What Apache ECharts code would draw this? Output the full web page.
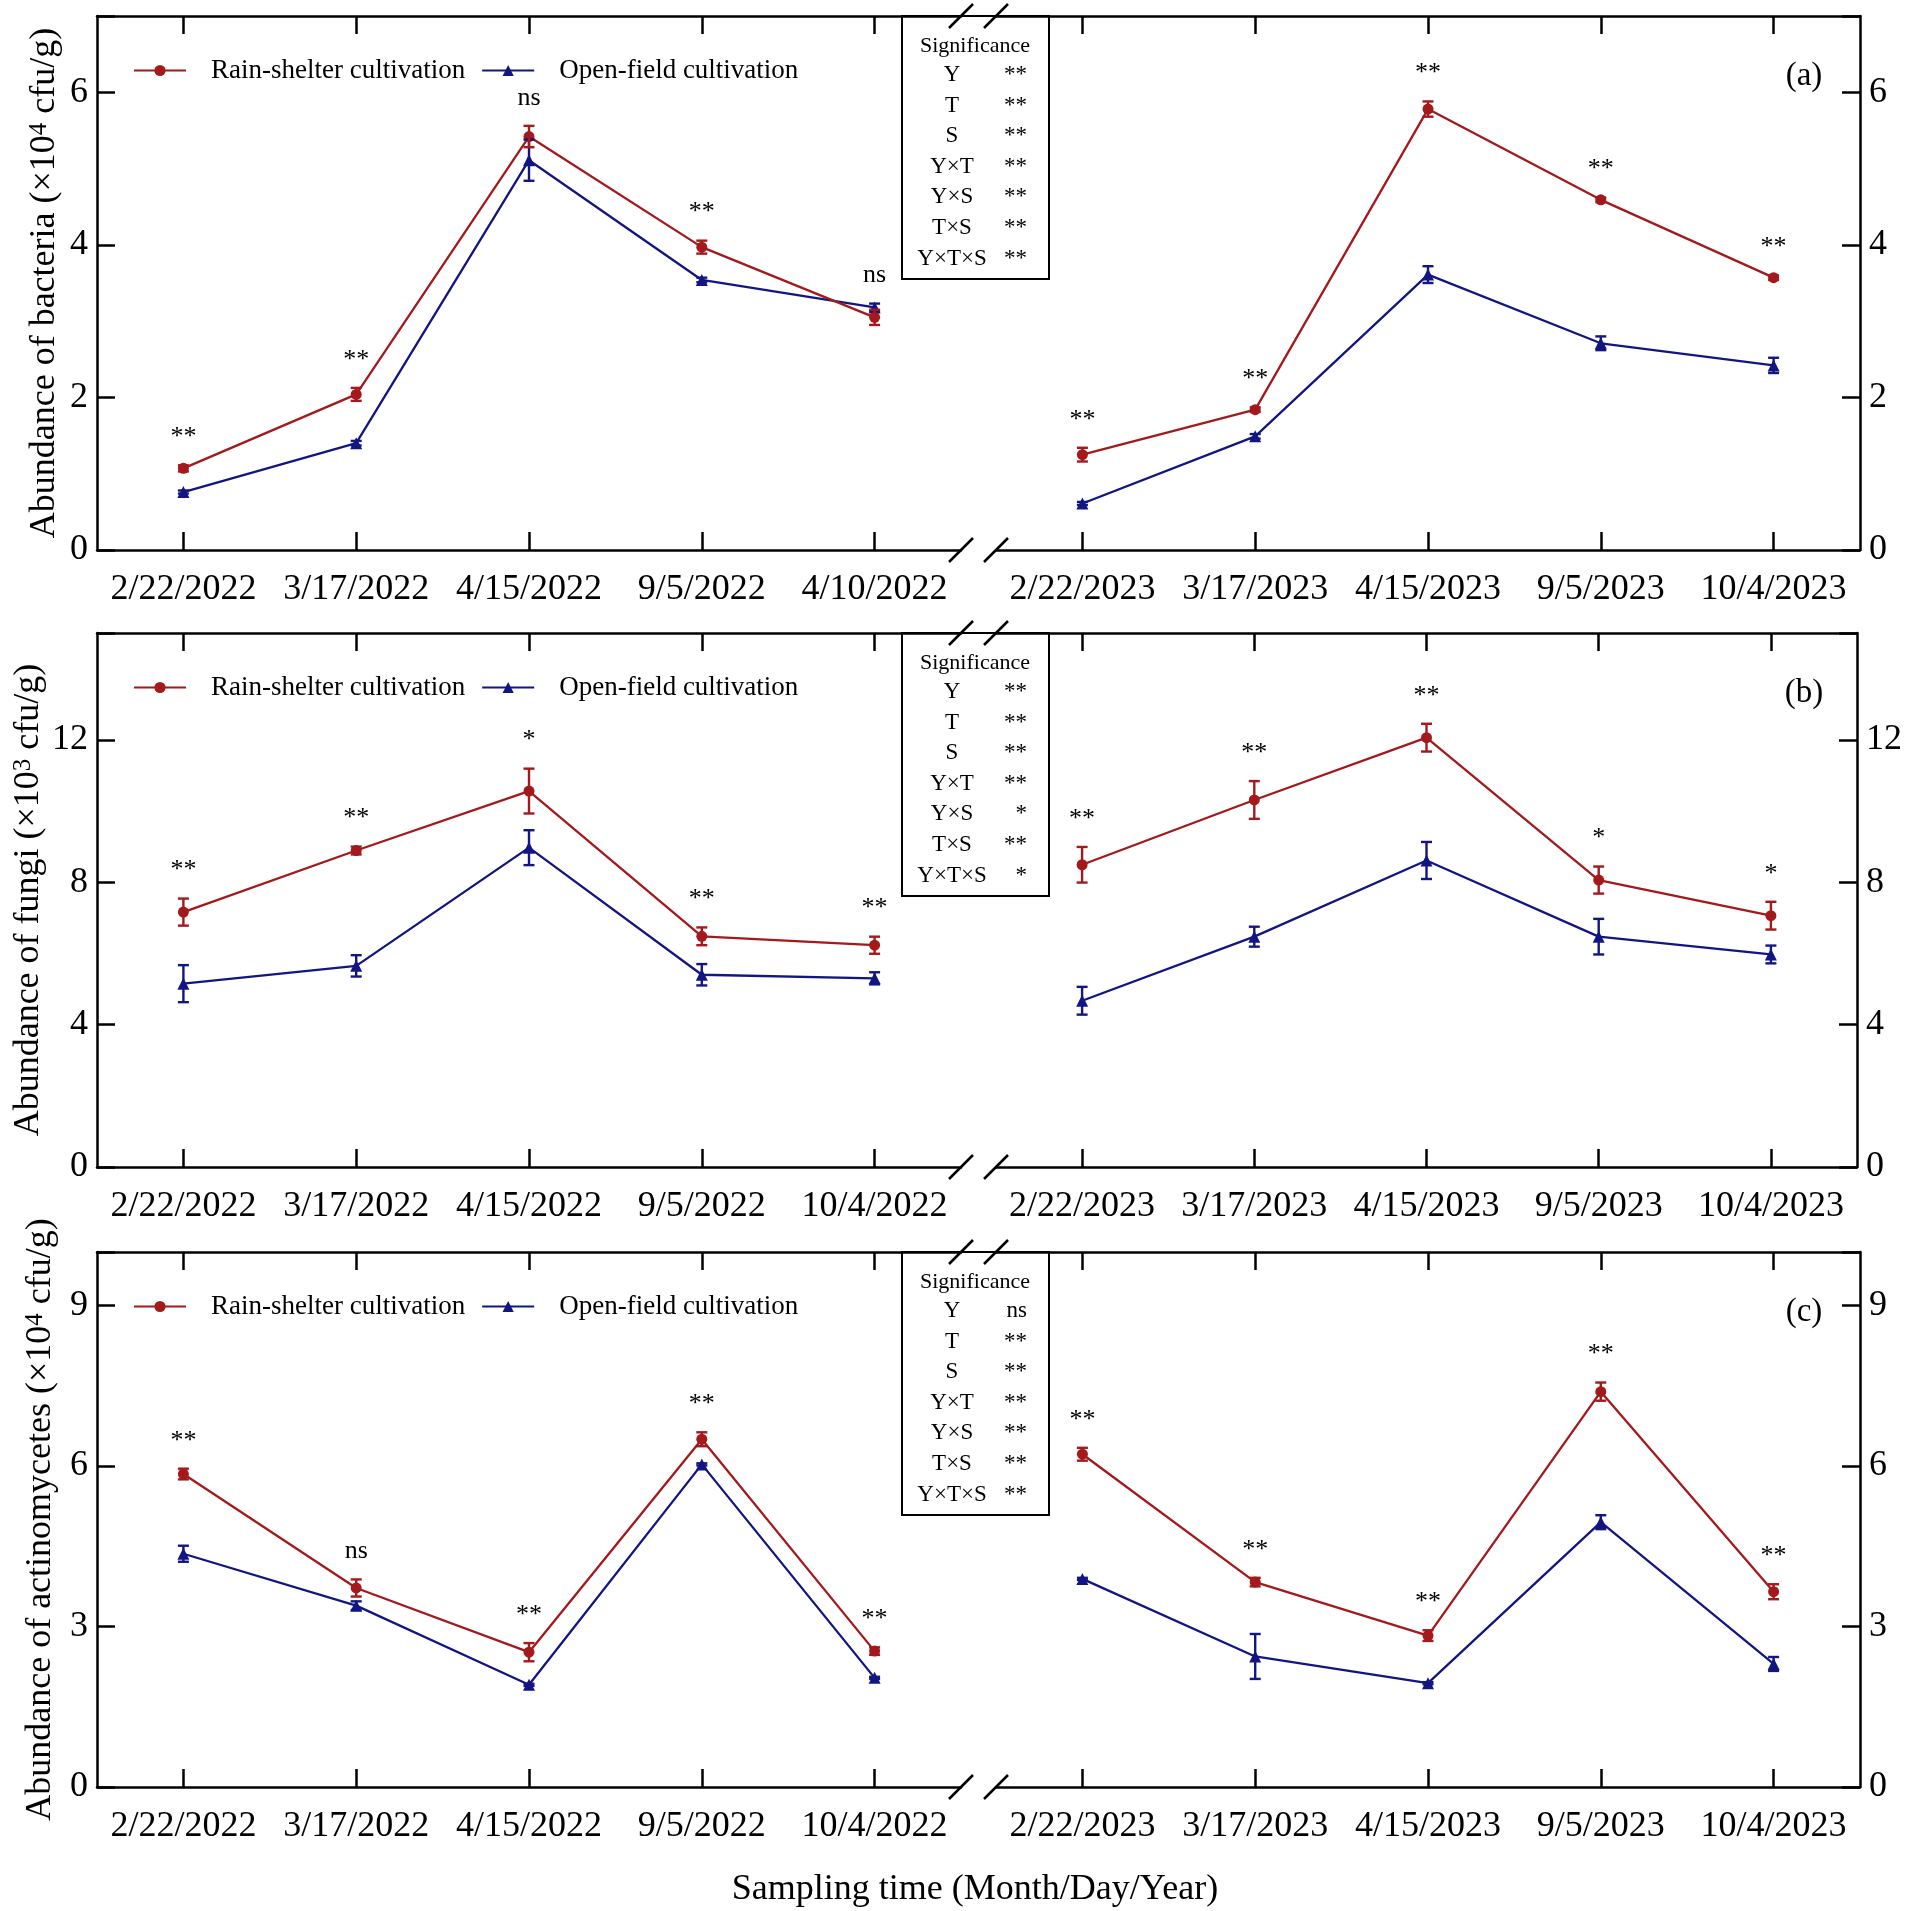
<!DOCTYPE html>
<html>
<head>
<meta charset="utf-8">
<script src="https://cdn.jsdelivr.net/npm/echarts@6/dist/echarts.min.js"></script>
<style>
html,body{margin:0;padding:0;background:#fff;}
#chart{width:1905px;height:1911px;}
</style>
</head>
<body>
<div id="chart"></div>
<script>
// ---------------- DATA ----------------
const dates2022a = ['2/22/2022', '3/17/2022', '4/15/2022', '9/5/2022', '4/10/2022'];
const dates2022 = ['2/22/2022', '3/17/2022', '4/15/2022', '9/5/2022', '10/4/2022'];
const dates2023 = ['2/22/2023', '3/17/2023', '4/15/2023', '9/5/2023', '10/4/2023'];
const seriesNames = ['Rain-shelter cultivation', 'Open-field cultivation'];

// (a) bacteria (x10^4 cfu/g)
const bacRain2022 = [1.07, 2.04, 5.42, 3.97, 3.05];
const bacRain2022Err = [0.04, 0.085, 0.14, 0.085, 0.1];
const bacOpen2022 = [0.76, 1.40, 5.11, 3.54, 3.18];
const bacOpen2022Err = [0.02, 0.03, 0.27, 0.03, 0.05];
const bacRain2023 = [1.25, 1.84, 5.78, 4.59, 3.57];
const bacRain2023Err = [0.09, 0.03, 0.1, 0.03, 0.03];
const bacOpen2023 = [0.61, 1.49, 3.61, 2.71, 2.42];
const bacOpen2023Err = [0.02, 0.03, 0.11, 0.09, 0.1];
const bacSig2022 = ['**', '**', 'ns', '**', 'ns'];
const bacSig2023 = ['**', '**', '**', '**', '**'];
const bacAnova = ['**', '**', '**', '**', '**', '**', '**'];

// (b) fungi (x10^3 cfu/g)
const funRain2022 = [7.16, 8.89, 10.56, 6.48, 6.23];
const funRain2022Err = [0.38, 0.11, 0.63, 0.25, 0.24];
const funOpen2022 = [5.15, 5.65, 8.97, 5.40, 5.30];
const funOpen2022Err = [0.52, 0.3, 0.49, 0.3, 0.17];
const funRain2023 = [8.49, 10.31, 12.06, 8.06, 7.06];
const funRain2023Err = [0.5, 0.53, 0.39, 0.38, 0.39];
const funOpen2023 = [4.67, 6.47, 8.61, 6.47, 5.97];
const funOpen2023Err = [0.39, 0.28, 0.52, 0.5, 0.25];
const funSig2022 = ['**', '**', '*', '**', '**'];
const funSig2023 = ['**', '**', '**', '*', '*'];
const funAnova = ['**', '**', '**', '**', '*', '**', '*'];

// (c) actinomycetes (x10^4 cfu/g)
const actRain2022 = [5.85, 3.72, 2.52, 6.50, 2.54];
const actRain2022Err = [0.1, 0.16, 0.17, 0.13, 0.07];
const actOpen2022 = [4.36, 3.39, 1.91, 6.03, 2.04];
const actOpen2022Err = [0.15, 0.08, 0.02, 0.02, 0.02];
const actRain2023 = [6.22, 3.83, 2.83, 7.39, 3.65];
const actRain2023Err = [0.12, 0.08, 0.1, 0.17, 0.14];
const actOpen2023 = [3.89, 2.44, 1.94, 4.95, 2.30];
const actOpen2023Err = [0.02, 0.42, 0.02, 0.13, 0.13];
const actSig2022 = ['**', 'ns', '**', '**', '**'];
const actSig2023 = ['**', '**', '**', '**', '**'];
const actAnova = ['ns', '**', '**', '**', '**', '**', '**'];

const anovaFactors = ['Y', 'T', 'S', 'Y×T', 'Y×S', 'T×S', 'Y×T×S'];

// ---------------- STYLE / LAYOUT ----------------
const RED = '#a3191c';
const BLUE = '#121682';
const FONT = '"Liberation Serif", "Times New Roman", serif';
const GRIDS_X = [{ left: 97, width: 864 }, { left: 996, width: 864 }];

const panels = [
  {
    top: 16, height: 534, yMax: 7, yInt: 2, nameGap: 34, tag: '(a)',
    yName: 'Abundance of bacteria (×10{sup|4} cfu/g)',
    cats: [dates2022a, dates2023],
    rain: [bacRain2022, bacRain2023], rainErr: [bacRain2022Err, bacRain2023Err],
    open: [bacOpen2022, bacOpen2023], openErr: [bacOpen2022Err, bacOpen2023Err],
    sig: [bacSig2022, bacSig2023], anova: bacAnova
  },
  {
    top: 633, height: 534, yMax: 15, yInt: 4, nameGap: 50, tag: '(b)',
    yName: 'Abundance of fungi (×10{sup|3} cfu/g)',
    cats: [dates2022, dates2023],
    rain: [funRain2022, funRain2023], rainErr: [funRain2022Err, funRain2023Err],
    open: [funOpen2022, funOpen2023], openErr: [funOpen2022Err, funOpen2023Err],
    sig: [funSig2022, funSig2023], anova: funAnova
  },
  {
    top: 1252, height: 535, yMax: 10, yInt: 3, nameGap: 38, tag: '(c)',
    yName: 'Abundance of actinomycetes (×10{sup|4} cfu/g)',
    cats: [dates2022, dates2023],
    rain: [actRain2022, actRain2023], rainErr: [actRain2022Err, actRain2023Err],
    open: [actOpen2022, actOpen2023], openErr: [actOpen2022Err, actOpen2023Err],
    sig: [actSig2022, actSig2023], anova: actAnova
  }
];

const axisLineStyle = { color: '#000', width: 2.5 };

function errorRender(color) {
  return function (params, api) {
    const x = api.value(0);
    const lo = api.coord([x, api.value(1)]);
    const hi = api.coord([x, api.value(2)]);
    const hw = 5.5;
    const st = { stroke: color, lineWidth: 2.4 };
    return {
      type: 'group',
      children: [
        { type: 'line', shape: { x1: lo[0], y1: lo[1], x2: hi[0], y2: hi[1] }, style: st },
        { type: 'line', shape: { x1: lo[0] - hw, y1: lo[1], x2: lo[0] + hw, y2: lo[1] }, style: st },
        { type: 'line', shape: { x1: hi[0] - hw, y1: hi[1], x2: hi[0] + hw, y2: hi[1] }, style: st }
      ]
    };
  };
}

function sigRender(texts) {
  return function (params, api) {
    const p = api.coord([api.value(0), api.value(1)]);
    return {
      type: 'text',
      x: p[0],
      y: p[1] - 28,
      style: {
        text: texts[params.dataIndex],
        fontSize: 26,
        fontFamily: FONT,
        fill: '#000',
        align: 'center',
        verticalAlign: 'middle'
      }
    };
  };
}

const grid = [], xAxis = [], yAxis = [], series = [], legend = [], graphic = [];

panels.forEach(function (p, pi) {
  for (let h = 0; h < 2; h++) {
    const gi = pi * 2 + h;
    grid.push({ left: GRIDS_X[h].left, width: GRIDS_X[h].width, top: p.top, height: p.height });
    const tick = { show: true, inside: true, alignWithLabel: true, length: 18, lineStyle: { color: '#000', width: 2.5 } };
    xAxis.push({
      type: 'category', gridIndex: gi, data: p.cats[h], position: 'bottom', boundaryGap: true,
      axisLine: { show: true, lineStyle: axisLineStyle },
      axisTick: tick,
      axisLabel: { show: true, interval: 0, margin: 22, fontSize: 36, fontFamily: FONT, color: '#000' },
      splitLine: { show: false }
    });
    xAxis.push({
      type: 'category', gridIndex: gi, data: p.cats[h], position: 'top', boundaryGap: true,
      axisLine: { show: true, lineStyle: axisLineStyle },
      axisTick: tick,
      axisLabel: { show: false },
      splitLine: { show: false }
    });
    const yA = {
      type: 'value', gridIndex: gi, min: 0, max: p.yMax, interval: p.yInt,
      position: h === 0 ? 'left' : 'right',
      axisLine: { show: true, onZero: false, lineStyle: axisLineStyle },
      axisTick: { show: true, inside: true, length: 18, lineStyle: { color: '#000', width: 2.5 } },
      axisLabel: {
        show: true, margin: 9, fontSize: 36, fontFamily: FONT, color: '#000',
        formatter: (function (iv) { return function (v) { return (Math.round(v) % iv === 0) ? String(v) : ''; }; })(p.yInt)
      },
      splitLine: { show: false }
    };
    if (h === 0) {
      yA.name = p.yName;
      yA.nameLocation = 'middle';
      yA.nameGap = p.nameGap;
      yA.nameRotate = 90;
      yA.nameTextStyle = {
        fontSize: 36, fontFamily: FONT, color: '#000',
        rich: { sup: { fontSize: 25, fontFamily: FONT, color: '#000', verticalAlign: 'top' } }
      };
    }
    yAxis.push(yA);

    const xi = gi * 2;
    const rain = p.rain[h], rainErr = p.rainErr[h], open = p.open[h], openErr = p.openErr[h];
    series.push({
      type: 'line', name: seriesNames[1], xAxisIndex: xi, yAxisIndex: gi, data: open,
      symbol: 'triangle', symbolSize: 12, color: BLUE,
      lineStyle: { color: BLUE, width: 2.3 }, itemStyle: { color: BLUE }, z: 3
    });
    series.push({
      type: 'line', name: seriesNames[0], xAxisIndex: xi, yAxisIndex: gi, data: rain,
      symbol: 'circle', symbolSize: 11, color: RED,
      lineStyle: { color: RED, width: 2.3 }, itemStyle: { color: RED }, z: 3
    });
    series.push({
      type: 'custom', name: 'errOpen', xAxisIndex: xi, yAxisIndex: gi,
      data: open.map(function (v, i) { return [i, v - openErr[i], v + openErr[i]]; }),
      renderItem: errorRender(BLUE), encode: { x: 0, y: [1, 2] }, z: 4, silent: true
    });
    series.push({
      type: 'custom', name: 'errRain', xAxisIndex: xi, yAxisIndex: gi,
      data: rain.map(function (v, i) { return [i, v - rainErr[i], v + rainErr[i]]; }),
      renderItem: errorRender(RED), encode: { x: 0, y: [1, 2] }, z: 4, silent: true
    });
    series.push({
      type: 'custom', name: 'sig', xAxisIndex: xi, yAxisIndex: gi,
      data: rain.map(function (v, i) { return [i, Math.max(v + rainErr[i], open[i] + openErr[i])]; }),
      renderItem: sigRender(p.sig[h]), encode: { x: 0, y: 1 }, z: 5, silent: true
    });
  }

  legend.push({
    left: 128, top: p.top + 36, orient: 'horizontal',
    data: seriesNames, itemWidth: 52, itemHeight: 14, itemGap: 16,
    selectedMode: false,
    formatter: function (n) { return '{g| }' + n; },
    textStyle: { fontSize: 27, fontFamily: FONT, color: '#000', rich: { g: { width: 20 } } }
  });

  graphic.push({
    type: 'text', x: 1804, y: p.top + 60, z: 10,
    style: { text: p.tag, fontSize: 33, fontFamily: FONT, fill: '#000', align: 'center', verticalAlign: 'middle' }
  });

  const bx = 902, by = p.top, bw = 147, bh = 263;
  const boxChildren = [
    { type: 'rect', shape: { x: bx, y: by, width: bw, height: bh }, style: { fill: '#fff', stroke: '#000', lineWidth: 2 } },
    { type: 'text', x: bx + 73, y: by + 30, style: { text: 'Significance', fontSize: 22, fontFamily: FONT, fill: '#000', align: 'center', verticalAlign: 'middle' } }
  ];
  anovaFactors.forEach(function (f, i) {
    boxChildren.push({ type: 'text', x: bx + 50, y: by + 59 + 30.6 * i, style: { text: f, fontSize: 23, fontFamily: FONT, fill: '#000', align: 'center', verticalAlign: 'middle' } });
    boxChildren.push({ type: 'text', x: bx + 125, y: by + 59 + 30.6 * i, style: { text: p.anova[i], fontSize: 23, fontFamily: FONT, fill: '#000', align: 'right', verticalAlign: 'middle' } });
  });
  graphic.push({ type: 'group', z: 20, children: boxChildren });

  const bottomY = p.top + p.height;
  const breakXs = [GRIDS_X[0].left + GRIDS_X[0].width, GRIDS_X[1].left];
  [p.top, bottomY].forEach(function (cy) {
    breakXs.forEach(function (cx) {
      graphic.push({
        type: 'line', z: 30,
        shape: { x1: cx - 12, y1: cy + 12, x2: cx + 12, y2: cy - 12 },
        style: { stroke: '#000', lineWidth: 2.5 }
      });
    });
  });
});

graphic.push({
  type: 'text', x: 975, y: 1890, z: 10,
  style: { text: 'Sampling time (Month/Day/Year)', fontSize: 36, fontFamily: FONT, fill: '#000', align: 'center', verticalAlign: 'middle' }
});

const chart = echarts.init(document.getElementById('chart'), null, { renderer: 'canvas' });
chart.setOption({
  backgroundColor: '#fff',
  animation: false,
  textStyle: { fontFamily: FONT },
  grid: grid,
  xAxis: xAxis,
  yAxis: yAxis,
  legend: legend,
  series: series,
  graphic: graphic
});
</script>
</body>
</html>
